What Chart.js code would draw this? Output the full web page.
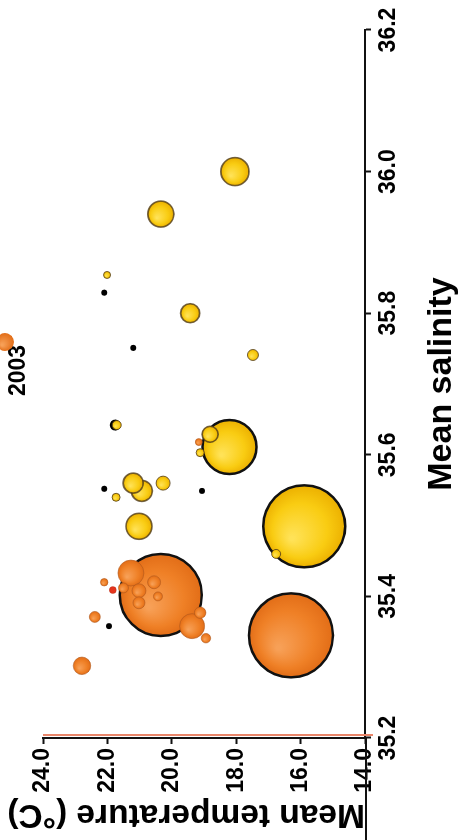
<!DOCTYPE html>
<html>
<head>
<meta charset="utf-8">
<script src="https://cdn.jsdelivr.net/npm/chart.js@4.4.1/dist/chart.umd.min.js"></script>
<style>
  html, body { margin: 0; padding: 0; background: #ffffff; overflow: hidden; }
  body { width: 464px; height: 840px; position: relative; }
  /* chart is laid out landscape, then turned a quarter turn counter-clockwise */
  #wrap {
    position: absolute; left: 0; top: 0;
    width: 840px; height: 480px;
    transform-origin: 0 0;
    transform: translate(-14px, 840px) rotate(-90deg);
  }
</style>
</head>
<body>
<div id="wrap"><canvas id="c" width="840" height="480"></canvas></div>
<script>
// Salinity / temperature / bubble radius per sample group
const yellowSalinity = [35.499, 35.611, 36.000, 35.940, 35.499, 35.549, 35.560, 35.800, 35.629, 35.560, 35.741, 35.460, 35.642, 35.603, 35.540, 35.854];
const yellowTemp     = [15.89, 18.21, 18.04, 20.34, 21.02, 20.93, 21.20, 19.43, 18.81, 20.27, 17.48, 16.76, 21.71, 19.12, 21.73, 22.01];
const yellowSize     = [41, 27, 14, 13, 13, 10.5, 10, 9.5, 8, 7, 5.5, 4.5, 4.5, 4, 4, 3.5];

const orangeSalinity = [35.345, 35.402, 35.433, 35.358, 35.302, 35.408, 35.420, 35.391, 35.377, 35.371, 35.412, 35.341, 35.400, 35.420, 35.618];
const orangeTemp     = [16.30, 20.34, 21.27, 19.37, 22.79, 21.02, 20.55, 21.02, 19.12, 22.39, 21.50, 18.94, 20.43, 22.10, 19.16];
const orangeSize     = [42, 41, 13, 12.5, 8.75, 7, 6.5, 6, 5.75, 5.5, 5, 4.75, 4.5, 3.75, 3.5];

const redSalinity = [35.409];
const redTemp     = [21.83];
const redSize     = [3.5];

const dotSalinity = [35.829, 35.751, 35.552, 35.549, 35.358, 35.642];
const dotTemp     = [22.10, 21.20, 22.10, 19.06, 21.95, 21.76];
const dotSize     = [3, 3, 3, 3, 3, 5.5];

const salinityTicks = ['35.2', '35.4', '35.6', '35.8', '36.0', '36.2'];
const temperatureTicks = ['14.0', '16.0', '18.0', '20.0', '22.0', '24.0'];

const legendLabel = '2003';

function points(xs, ys, rs) {
  return xs.map((x, i) => ({ x: x, y: ys[i], r: rs[i] }));
}

// shaded sphere look for each bubble
function sphere(light, base, edge) {
  return function (ctx) {
    const raw = ctx.raw;
    if (!raw) return base;
    const ch = ctx.chart;
    const x = ch.scales.x.getPixelForValue(raw.x);
    const y = ch.scales.y.getPixelForValue(raw.y);
    const r = raw.r;
    if (!isFinite(x) || !isFinite(y) || !isFinite(r) || r <= 0) return base;
    const g = ch.ctx.createRadialGradient(x - r * 0.3, y - r * 0.3, r * 0.05, x, y, r);
    g.addColorStop(0, light);
    g.addColorStop(0.65, base);
    g.addColorStop(1, edge);
    return g;
  };
}

const yellowFill = sphere('#ffe257', '#f9cc12', '#ecb000');
const orangeFill = sphere('#f7a057', '#ef8026', '#e26d17');

// axis-line extension and the reddish rule beside the temperature axis
const axisExtras = {
  id: 'axisExtras',
  afterDraw(chart) {
    const { ctx, chartArea } = chart;
    const xs = chart.scales.x;
    ctx.save();
    ctx.strokeStyle = '#e9866a';
    ctx.lineWidth = 2;
    const sx = xs.getPixelForValue(35.2) + 3;
    ctx.beginPath();
    ctx.moveTo(sx, chartArea.top);
    ctx.lineTo(sx, chartArea.bottom + 8);
    ctx.stroke();
    ctx.strokeStyle = '#111';
    ctx.lineWidth = 2;
    ctx.beginPath();
    ctx.moveTo(0, chartArea.bottom + 1);
    ctx.lineTo(chartArea.left, chartArea.bottom + 1);
    ctx.stroke();
    ctx.restore();
  }
};

// legend entry: label followed by its marker
const legendEntry = {
  id: 'legendEntry',
  afterDraw(chart) {
    const ctx = chart.ctx;
    const ds = chart.data.datasets.find(d => d.label === legendLabel);
    ctx.save();
    ctx.font = 'bold 23px "Liberation Sans", Arial, sans-serif';
    ctx.fillStyle = '#000';
    ctx.textBaseline = 'middle';
    ctx.textAlign = 'left';
    ctx.fillText(ds.label, 444, 33);
    const g = ctx.createRadialGradient(495, 16, 1, 498, 19, 9);
    g.addColorStop(0, '#f7a057');
    g.addColorStop(1, '#e26d17');
    ctx.fillStyle = g;
    ctx.beginPath();
    ctx.arc(498, 19, 9, 0, Math.PI * 2);
    ctx.fill();
    ctx.restore();
  }
};

Chart.defaults.font.family = '"Liberation Sans", Arial, Helvetica, sans-serif';
Chart.defaults.font.weight = 'bold';
Chart.defaults.color = '#000';

new Chart(document.getElementById('c'), {
  type: 'bubble',
  data: {
    datasets: [
      {
        label: 'marker',
        data: points(redSalinity, redTemp, redSize),
        backgroundColor: '#e5341d',
        borderColor: 'rgba(150,30,10,0.6)',
        borderWidth: 0.5,
        order: 0
      },
      {
        label: legendLabel,
        data: points(orangeSalinity, orangeTemp, orangeSize),
        backgroundColor: orangeFill,
        borderColor: (c) => (c.raw && c.raw.r > 20) ? '#111' : 'rgba(170,85,30,0.55)',
        borderWidth: (c) => (c.raw && c.raw.r > 20) ? 2.5 : 1,
        order: 1
      },
      {
        label: 'other',
        data: points(yellowSalinity, yellowTemp, yellowSize),
        backgroundColor: yellowFill,
        borderColor: (c) => (c.raw && c.raw.r > 20) ? '#111' : 'rgba(80,60,25,0.8)',
        borderWidth: (c) => (c.raw && c.raw.r > 20) ? 2.5 : (c.raw && c.raw.r > 7 ? 1.6 : 1),
        order: 2
      },
      {
        label: 'stations',
        data: points(dotSalinity, dotTemp, dotSize),
        backgroundColor: '#000',
        borderWidth: 0,
        order: 3
      }
    ]
  },
  options: {
    responsive: false,
    animation: false,
    events: [],
    layout: { autoPadding: false, padding: { top: 57, right: 30, left: 0, bottom: 0 } },
    plugins: {
      legend: { display: false },
      tooltip: { enabled: false }
    },
    scales: {
      x: {
        type: 'linear',
        min: 35.2,
        max: 36.2,
        afterFit(scale) {
          scale.height = 101;
          scale.paddingLeft = 0;
          scale.paddingRight = 0;
        },
        afterBuildTicks(scale) {
          scale.ticks = salinityTicks.map(t => ({ value: parseFloat(t) }));
        },
        ticks: {
          autoSkip: false,
          maxRotation: 0,
          padding: 4,
          font: { size: 23, weight: 'bold' },
          color: '#000',
          callback: (v) => salinityTicks.find(t => Math.abs(parseFloat(t) - v) < 1e-6) || ''
        },
        grid: { drawOnChartArea: false, tickLength: 6, tickWidth: 2, tickColor: '#111' },
        border: { display: true, color: '#111', width: 2 },
        title: {
          display: true,
          text: 'Mean salinity',
          font: { size: 34, weight: 'bold' },
          color: '#000',
          padding: { top: 0, bottom: 4 }
        }
      },
      y: {
        type: 'linear',
        min: 14,
        max: 24,
        afterFit(scale) {
          scale.width = 102;
          scale.paddingTop = 0;
          scale.paddingBottom = 0;
        },
        afterBuildTicks(scale) {
          scale.ticks = temperatureTicks.map(t => ({ value: parseFloat(t) }));
        },
        ticks: {
          autoSkip: false,
          padding: 4,
          font: { size: 23, weight: 'bold' },
          color: '#000',
          callback: (v) => temperatureTicks.find(t => Math.abs(parseFloat(t) - v) < 1e-6) || ''
        },
        grid: { drawOnChartArea: false, tickLength: 6, tickWidth: 2, tickColor: '#111' },
        border: { display: true, color: '#111', width: 2 },
        title: {
          display: true,
          text: 'Mean temperature (°C)',
          align: 'start',
          font: { size: 33.5, weight: 'bold' },
          color: '#000',
          padding: { top: 6, bottom: 0 }
        }
      }
    }
  },
  plugins: [axisExtras, legendEntry]
});
</script>
</body>
</html>
